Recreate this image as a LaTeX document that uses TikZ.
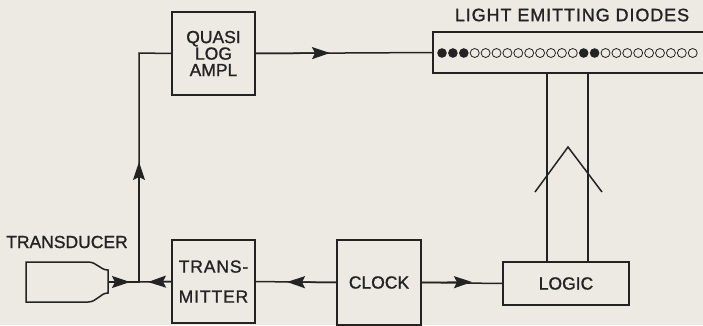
\documentclass[tikz,border=0pt]{standalone}
\usepackage{fontspec}
\newfontfamily\lab[FakeBold=1.2]{Liberation Sans}
\newfontfamily\labwide[FakeBold=1.2,LetterSpace=5]{Liberation Sans}
\usetikzlibrary{arrows.meta}
\definecolor{paper}{RGB}{236,234,226}
\definecolor{ink}{RGB}{35,35,35}
\begin{document}
\begin{tikzpicture}[x=1pt,y=-1pt,
  line width=1.5pt, draw=ink,
  blk/.style={draw=ink, line width=1.5pt, inner sep=0pt, outer sep=0pt, align=center,
     font=\lab\fontsize{17.5}{16.5}\selectfont, text=ink},
  txt/.style={inner sep=0pt, font=\lab\fontsize{17.5}{17}\selectfont, text=ink},
  arr/.style={-{Stealth[length=18pt,width=12pt,inset=3pt]}, draw=ink, fill=ink},
  ln/.style={draw=ink}]
\useasboundingbox[fill=paper] (0,0) rectangle (703,325);

% blocks
\node[blk, minimum width=83pt, minimum height=83pt] (qla) at (213.5,53.5) {QUASI\\LOG\\AMPL};
\node[blk, minimum width=83pt, minimum height=83pt, font=\labwide\fontsize{17.5}{30}\selectfont] (tx) at (213.5,281.5) {TRANS-\\MITTER};
\node[blk, minimum width=84pt, minimum height=85pt] (clk) at (379,282.5) {CLOCK};
\node[blk, minimum width=126pt, minimum height=43pt] (logic) at (566,283.5) {LOGIC};
\node[blk, minimum width=277pt, minimum height=41pt] (led) at (571.5,52.5) {};

% labels
\node[txt, font=\labwide\fontsize{18}{18}\selectfont] (ledlab) at (572,15) {LIGHT EMITTING DIODES};
\node[txt] (trdlab) at (67,242) {TRANSDUCER};

% LED dots
\foreach \i in {0,...,23}{
  \pgfmathsetmacro{\xx}{442+\i*10.9}
  \ifnum\i<3 \fill[ink] (\xx,53) circle (4.8pt);
  \else\ifnum\i=13 \fill[ink] (\xx,53) circle (4.8pt);
  \else\ifnum\i=14 \fill[ink] (\xx,53) circle (4.8pt);
  \else \draw[ink, line width=0.8pt] (\xx,53) circle (4.5pt);
  \fi\fi\fi
}

% transducer
\draw[ln] (26,262) -- (88,262) .. controls (97,262) and (100,270) .. (108,270)
  -- (108,293) .. controls (100,293) and (97,302) .. (88,302) -- (26,302) -- cycle;
\coordinate (trd) at (108,282);
\coordinate (j) at (139,282);
\coordinate (jtop) at (139,53);

% connectors (full line, then arrowhead on top)
\coordinate (a1) at (130,282);
\draw[ln] (trd) -- (j);
\draw[arr] (trd) -- (a1);

\coordinate (a2) at (148,282);
\draw[ln] (tx.west) -- (j);
\draw[arr] (tx.west) -- (a2);

\coordinate (a3) at (139,162);
\draw[ln] (j) -- (jtop) -- (qla.west);
\draw[arr] (j) -- (a3);

\coordinate (a4) at (330,53);
\draw[ln] (qla.east) -- (led.west);
\draw[arr] (qla.east) -- (a4);

\coordinate (a5) at (287,282);
\draw[ln] (clk.west) -- (tx.east);
\draw[arr] (clk.west) -- (a5);

\coordinate (a6) at (472,282);
\draw[ln] (clk.east) -- (logic.west);
\draw[arr] (clk.east) -- (a6);

% bus from logic to LEDs
\coordinate (b1t) at (547,73);
\coordinate (b1b) at (547,262);
\coordinate (b2t) at (588,73);
\coordinate (b2b) at (588,262);
\draw[ln] (b1b) -- (b1t);
\draw[ln] (b2b) -- (b2t);
\coordinate (c1) at (535,192);
\coordinate (c2) at (568,147);
\coordinate (c3) at (602,192);
\draw[ln] (c1) -- (c2) -- (c3);
\end{tikzpicture}
\end{document}
